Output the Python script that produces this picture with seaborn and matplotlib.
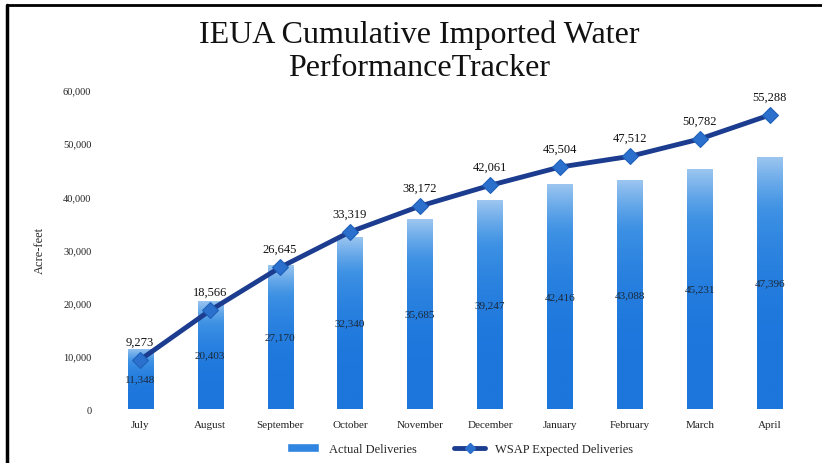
import matplotlib
matplotlib.use("Agg")
import matplotlib.pyplot as plt
from matplotlib.lines import Line2D
from matplotlib.patches import Patch
from matplotlib.colors import LinearSegmentedColormap
import numpy as np
import seaborn as sns
import pandas as pd

# chart data
months = ["July", "August", "September", "October", "November", "December",
          "January", "February", "March", "April"]
actual = [11348, 20403, 27170, 32340, 35685, 39247, 42416, 43088, 45231, 47396]
expected = [9273, 18566, 26645, 33319, 38172, 42061, 45504, 47512, 50782, 55288]
y_ticks = [0, 10000, 20000, 30000, 40000, 50000, 60000]

df = pd.DataFrame({"month": months, "actual": actual, "expected": expected})

sns.set_style("white")
plt.rcParams["font.family"] = ["Liberation Serif", "DejaVu Serif"]

bar_color = "#2f85df"
line_color = "#1b3c8f"
marker_color = "#2a70cc"

fig = plt.figure(figsize=(8.22, 4.64), dpi=100)
ax = fig.add_axes([0.128, 0.116, 0.851, 0.688])

# ---------- bars: actual deliveries ----------
sns.barplot(data=df, x="month", y="actual", color=bar_color, width=0.36,
            saturation=1, ax=ax)

# fade the bars toward the top like the scanned original
fade = LinearSegmentedColormap.from_list("fade", ["#1c76dc", "#3f92e4", "#9cc6f0"])
for bar in ax.patches:
    x0, y0 = bar.get_x(), bar.get_y()
    w, h = bar.get_width(), bar.get_height()
    grad = np.linspace(0, 1, 100).reshape(-1, 1) ** 3
    im = ax.imshow(grad, cmap=fade, aspect="auto", origin="lower",
                   extent=(x0, x0 + w, y0, y0 + h), zorder=bar.get_zorder())
    im.set_clip_path(bar)

# ---------- line: WSAP expected deliveries ----------
sns.lineplot(data=df, x="month", y="expected", sort=False, color=line_color,
             linewidth=3.5, marker="D", markersize=8,
             markerfacecolor=marker_color, markeredgecolor="#1f5fb8",
             zorder=5, ax=ax)

# data labels
for i, v in enumerate(actual):
    ax.annotate(f"{v:,}", (i, v / 2), ha="center", va="center",
                fontsize=8, color="#1c2a3a", zorder=6)
for i, v in enumerate(expected):
    ax.annotate(f"{v:,}", (i, v), xytext=(0, 9), textcoords="offset points",
                ha="center", va="bottom", fontsize=9, color="#111111", zorder=6)

ax.set_xlim(-0.5, len(months) - 0.5)
ax.set_ylim(0, 60000)
ax.set_yticks(y_ticks)
ax.set_yticklabels([f"{t:,}" for t in y_ticks], fontsize=7.5, color="#222222")
ax.tick_params(axis="x", labelsize=8, colors="#222222", length=0, pad=8)
ax.tick_params(axis="y", length=0, pad=10)
ax.set_xlabel("")
ax.set_ylabel("Acre-feet", fontsize=9, labelpad=12)
sns.despine(ax=ax, left=True, bottom=True)
if ax.get_legend():
    ax.get_legend().remove()

# title
fig.text(0.51, 0.888, "IEUA Cumulative Imported Water\nPerformanceTracker",
         ha="center", va="center", fontsize=23, color="#111111",
         linespacing=1.2)

# legend
handles = [Patch(facecolor=bar_color, label="Actual Deliveries"),
           Line2D([0], [0], color=line_color, linewidth=3.5, marker="D",
                  markersize=5, markerfacecolor=marker_color,
                  markeredgecolor=marker_color,
                  label="WSAP Expected Deliveries")]
fig.legend(handles=handles, loc="center", bbox_to_anchor=(0.56, 0.03),
           ncol=2, frameon=False, fontsize=9, columnspacing=3,
           handlelength=2.5)

# scanned frame lines (top and left)
fig.add_artist(Line2D([0.009, 1.0], [0.988, 0.988], color="black", linewidth=2))
fig.add_artist(Line2D([0.009, 0.009], [0.0, 0.988], color="black", linewidth=2.5))

fig.savefig("out.png", dpi=100)
